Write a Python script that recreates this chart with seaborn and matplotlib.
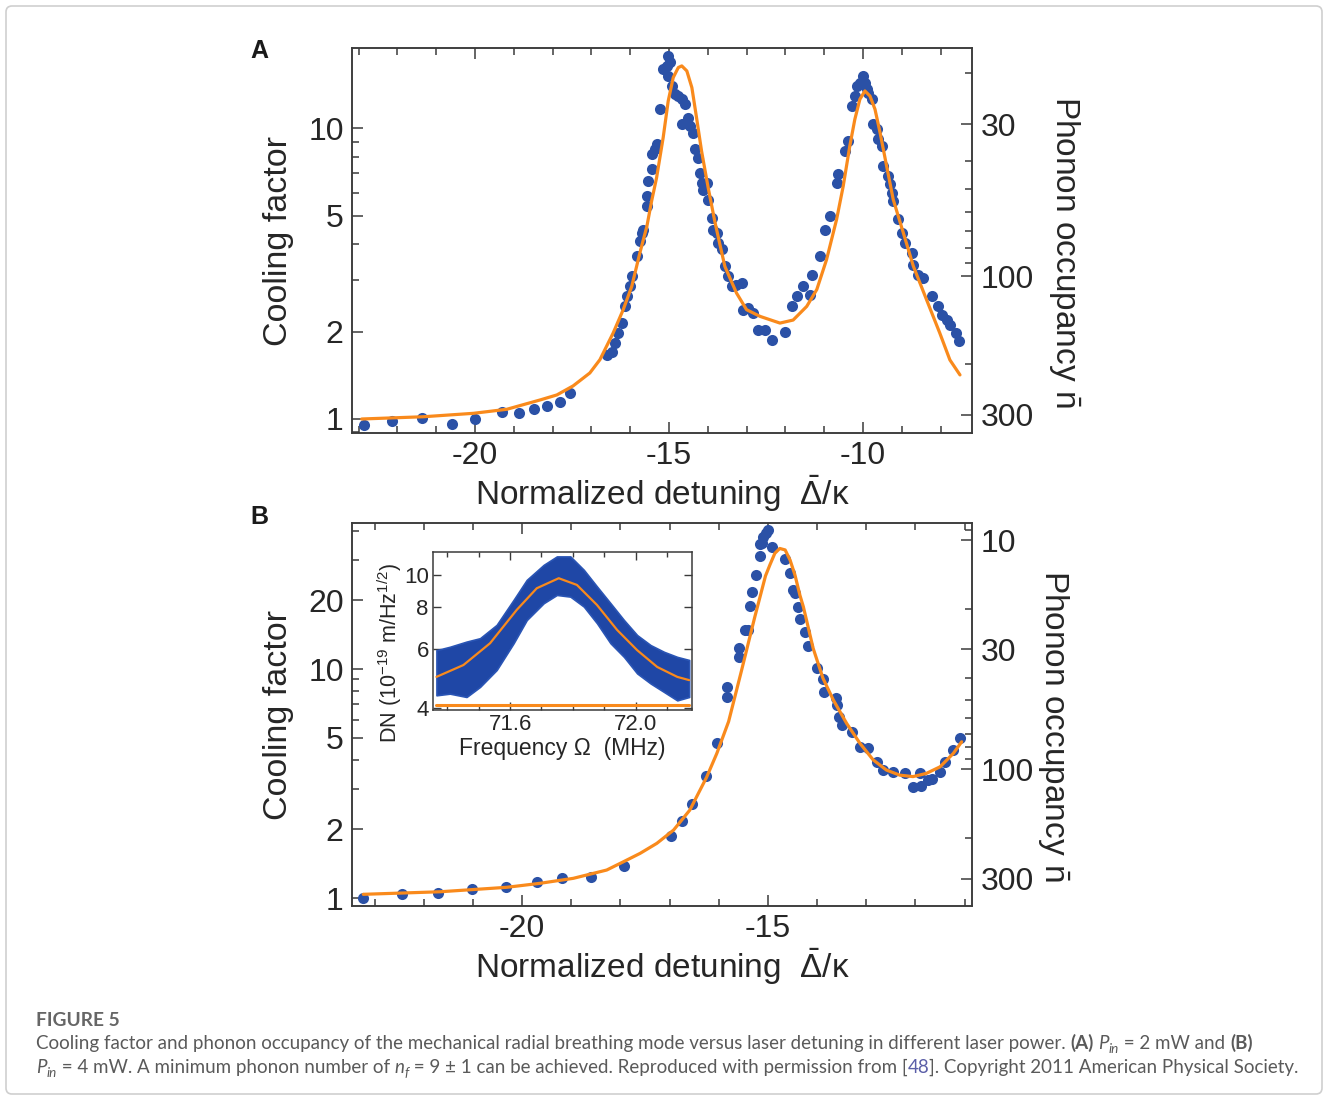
import numpy as np
import matplotlib
matplotlib.use("Agg")
import matplotlib.pyplot as plt
import matplotlib.ticker as mticker
from matplotlib.patches import FancyBboxPatch
import seaborn as sns

# ---------------- values ----------------
# Panel A (P_in = 2 mW): measured cooling factor vs normalized detuning
a_det = [-22.86, -22.15, -21.36, -20.59, -19.99, -19.31, -18.86, -18.48, -18.14, -17.81, -17.55,
         -16.61, -16.48, -16.39, -16.31, -16.22, -16.13, -16.09, -16.01, -15.96, -15.83,
         -15.75, -15.70, -15.66, -15.57, -15.57, -15.53, -15.45, -15.45, -15.36, -15.32,
         -15.23, -15.15, -15.06, -15.02, -14.97, -15.02, -14.93, -14.85, -14.76, -14.67,
         -14.59, -14.67, -14.50, -14.46, -14.37, -14.33, -14.24, -14.20, -14.16, -14.12,
         -14.03, -13.99, -13.90, -13.86, -13.77, -13.73, -13.64, -13.56, -13.47, -13.38,
         -13.26, -13.13, -13.08, -12.96, -12.83, -12.70, -12.53, -12.35, -12.01, -11.84,
         -11.71, -11.54, -11.37, -11.32, -11.11, -10.98, -10.85, -10.68, -10.64, -10.46,
         -10.38, -10.29, -10.21, -10.16, -10.08, -9.99, -9.95, -9.90, -9.86, -9.78,
         -9.73, -9.65, -9.61, -9.52, -9.48, -9.35, -9.30, -9.26, -9.22, -9.09,
         -9.00, -8.92, -8.74, -8.70, -8.57, -8.45, -8.23, -8.06, -7.97, -7.84,
         -7.76, -7.59, -7.52]
a_cool = [0.953, 0.987, 1.01, 0.959, 1.00, 1.055, 1.051, 1.083, 1.111, 1.144, 1.232,
          1.663, 1.706, 1.824, 1.975, 2.138, 2.439, 2.641, 2.858, 3.095, 3.628,
          4.088, 4.368, 4.484, 5.40, 5.84, 6.58, 7.22, 8.13, 8.47, 8.81,
          11.63, 15.97, 16.40, 17.75, 16.85, 15.14, 13.99, 13.10, 12.92, 12.59,
          12.10, 10.32, 10.89, 10.18, 9.67, 8.47, 7.93, 7.03, 6.50, 6.16,
          6.50, 5.69, 4.92, 4.48, 4.37, 4.04, 3.83, 3.35, 3.10, 2.86,
          2.90, 2.94, 2.377, 2.409, 2.315, 2.027, 2.027, 1.873, 2.0, 2.439,
          2.641, 2.858, 2.677, 3.138, 3.628, 4.484, 4.985, 6.50, 6.94, 8.35,
          9.04, 11.94, 12.92, 13.99, 14.38, 15.14, 14.38, 13.63, 13.28, 12.59,
          10.32, 9.92, 9.16, 8.69, 7.41, 6.85, 6.41, 6.00, 5.61, 4.86,
          4.37, 4.04, 3.73, 3.40, 3.14, 3.06, 2.641, 2.439, 2.284, 2.194,
          2.11, 1.975, 1.848]
# fitted theory curve of panel A
a_fit_det = [-22.92, -21.33, -20.04, -19.18, -18.32, -17.89, -17.47, -17.04, -16.78, -16.44,
             -16.18, -15.96, -15.75, -15.57, -15.45, -15.32, -15.15, -15.02, -14.89, -14.76,
             -14.67, -14.54, -14.41, -14.29, -14.16, -13.99, -13.82, -13.69, -13.56, -13.26,
             -13.00, -12.65, -12.14, -11.80, -11.45, -11.19, -10.94, -10.68, -10.51, -10.34,
             -10.21, -10.08, -9.95, -9.82, -9.69, -9.56, -9.39, -9.22, -8.96, -8.70,
             -8.36, -8.02, -7.76, -7.50]
a_fit_cool = [1.0, 1.018, 1.046, 1.08, 1.163, 1.21, 1.30, 1.44, 1.60, 1.975,
              2.377, 2.858, 3.73, 4.60, 5.6, 6.76, 9.29, 12.42, 14.96, 16.19,
              16.40, 15.76, 13.81, 10.89, 8.35, 6.25, 4.79, 4.0, 3.35, 2.713,
              2.377, 2.254, 2.138, 2.19, 2.44, 2.79, 3.53, 4.86, 6.32, 8.69,
              10.74, 12.59, 13.45, 12.92, 11.63, 9.67, 7.41, 5.69, 4.37, 3.35,
              2.57, 1.975, 1.597, 1.418]
n0_a = 310          # phonon occupancy at cooling factor 1
a_cool_ticks = [1, 2, 5, 10]
a_n_ticks = [30, 100, 300]

# Panel B (P_in = 4 mW)
b_det = [-23.23, -22.45, -21.71, -21.01, -20.33, -19.70, -19.19, -18.60, -17.93, -16.97,
         -16.74, -16.54, -16.25, -16.04, -15.84, -15.84, -15.58, -15.58, -15.47, -15.40,
         -15.37, -15.33, -15.25, -15.17, -15.16, -15.13, -15.10, -15.04, -14.99, -14.91,
         -14.65, -14.56, -14.49, -14.45, -14.38, -14.34, -14.25, -14.18, -14.00, -13.88,
         -13.86, -13.61, -13.60, -13.55, -13.50, -13.30, -13.13, -12.96, -12.79, -12.66,
         -12.45, -12.22, -12.05, -11.91, -11.88, -11.74, -11.67, -11.50, -11.40, -11.23,
         -11.10]
b_cool = [0.997, 1.041, 1.048, 1.095, 1.12, 1.171, 1.226, 1.239, 1.384, 1.865,
          2.169, 2.574, 3.41, 4.74, 7.57, 8.37, 11.32, 12.31, 14.80, 14.80,
          18.84, 21.76, 25.73, 30.99, 34.97, 35.5, 37.52, 39.26, 40.46, 33.93,
          30.08, 26.18, 22.13, 21.47, 18.6, 16.57, 14.55, 12.57, 10.07, 9.06,
          7.92, 7.45, 6.96, 6.19, 5.69, 5.32, 4.58, 4.51, 3.94, 3.62,
          3.56, 3.53, 3.04, 3.50, 3.08, 3.28, 3.30, 3.56, 3.94, 4.43,
          5.01]
b_fit_det = [-23.23, -21.67, -20.31, -19.63, -18.96, -18.28, -17.94, -17.60, -17.26, -16.92,
             -16.59, -16.25, -16.04, -15.80, -15.54, -15.27, -15.05, -14.96, -14.86, -14.76,
             -14.65, -14.55, -14.45, -14.35, -14.28, -14.08, -13.88, -13.67, -13.40, -13.13,
             -12.86, -12.59, -12.32, -12.05, -11.78, -11.50, -11.23, -11.06]
b_fit_cool = [1.038, 1.065, 1.114, 1.16, 1.219, 1.325, 1.44, 1.567, 1.733, 1.98,
              2.42, 3.36, 4.28, 5.9, 9.8, 16.8, 25.5, 28.5, 32.0, 33.6,
              33.1, 29.9, 25.7, 21.0, 18.7, 12.3, 9.1, 7.32, 5.79, 4.74,
              4.01, 3.62, 3.44, 3.39, 3.50, 3.74, 4.28, 4.81]
n0_b = 365
b_cool_ticks = [1, 2, 5, 10, 20]
b_n_ticks = [10, 30, 100, 300]

# Inset: displacement noise spectrum (edges of the noisy trace) and Lorentzian fit
ins_freq = [71.365, 71.408, 71.461, 71.504, 71.557, 71.611, 71.653, 71.707, 71.749, 71.792,
            71.835, 71.877, 71.920, 71.963, 72.005, 72.048, 72.091, 72.133, 72.171]
ins_upper = [5.96, 6.10, 6.32, 6.47, 7.09, 8.42, 9.66, 10.71, 11.35, 11.35,
             10.35, 9.23, 8.23, 7.33, 6.61, 6.17, 5.89, 5.69, 5.57]
ins_lower = [4.37, 4.42, 4.32, 4.63, 5.20, 6.25, 7.33, 8.23, 8.71, 8.61,
             8.04, 7.17, 6.25, 5.69, 5.08, 4.74, 4.47, 4.22, 4.32]
ins_fit_freq = [71.365, 71.451, 71.536, 71.621, 71.685, 71.755, 71.813, 71.877, 71.941,
                72.005, 72.069, 72.133, 72.171]
ins_fit = [4.96, 5.38, 6.25, 7.86, 9.12, 9.77, 9.33, 8.13, 6.85, 5.96, 5.31, 4.96, 4.85]
ins_floor = 4.08

# ---------------- style ----------------
W, H = 1328, 1099
BLUE = "#2b51a6"
ORANGE = "#f98a1c"
SPINE = "#3a3a3a"

sns.set_style("ticks")
plt.rcParams["font.family"] = ["Liberation Sans", "DejaVu Sans"]
plt.rcParams["mathtext.fontset"] = "custom"
plt.rcParams["mathtext.rm"] = "Liberation Sans"
plt.rcParams["mathtext.it"] = "Liberation Sans:italic"
plt.rcParams["mathtext.bf"] = "Liberation Sans:bold"
plt.rcParams["axes.edgecolor"] = SPINE
plt.rcParams["axes.linewidth"] = 1.1
plt.rcParams["text.color"] = "#1a1a1a"

fig = plt.figure(figsize=(W / 100, H / 100), dpi=100)


def box(l, t, r, b):
    # pixel box -> figure fraction rect
    return [l / W, 1 - b / H, (r - l) / W, (b - t) / H]


fmt = mticker.FuncFormatter(lambda v, p: f"{v:g}")


def main_panel(rect, det, cool, fdet, fcool, xlim, ylim, cticks, n0, nticks, lpad, rpad, ry):
    ax = fig.add_axes(rect)
    sns.scatterplot(x=det, y=cool, ax=ax, s=64, color=BLUE, linewidth=0, zorder=2)
    sns.lineplot(x=fdet, y=fcool, ax=ax, color=ORANGE, lw=2.3, estimator=None, zorder=3)
    ax.set_yscale("log")
    ax.set_xlim(xlim)
    ax.set_ylim(ylim)
    ax.xaxis.set_major_locator(mticker.MultipleLocator(5))
    ax.xaxis.set_minor_locator(mticker.MultipleLocator(1))
    ax.xaxis.set_major_formatter(fmt)
    ax.yaxis.set_major_locator(mticker.FixedLocator(cticks))
    ax.yaxis.set_major_formatter(fmt)
    ax.yaxis.set_minor_locator(mticker.LogLocator(base=10, subs=np.arange(2, 10), numticks=30))
    ax.yaxis.set_minor_formatter(mticker.NullFormatter())
    ax.set_xlabel(r"Normalized detuning  $\bar{\Delta}/\mathrm{\kappa}$", fontsize=24, labelpad=2)
    ax.set_ylabel("Cooling factor", fontsize=24.5, labelpad=lpad)

    tw = ax.twinx()
    tw.set_yscale("log")
    tw.set_ylim(n0 / ylim[0], n0 / ylim[1])
    tw.yaxis.set_major_locator(mticker.FixedLocator(nticks))
    tw.yaxis.set_major_formatter(fmt)
    tw.yaxis.set_minor_locator(mticker.LogLocator(base=10, subs=np.arange(2, 10), numticks=30))
    tw.yaxis.set_minor_formatter(mticker.NullFormatter())
    tw.set_ylabel(r"Phonon occupancy $\mathrm{\bar{n}}$", fontsize=24, rotation=270,
                  va="bottom", labelpad=rpad)
    tw.yaxis.label.set_y(ry)

    ax.tick_params(which="both", direction="in", top=True, right=False, color=SPINE,
                   width=1.1, labelsize=23, pad=6)
    tw.tick_params(which="both", direction="in", color=SPINE, width=1.1, labelsize=23, pad=6)
    for a in (ax, tw):
        a.tick_params(which="major", length=8)
        a.tick_params(which="minor", length=5)
    return ax


axA = main_panel(box(352, 48, 972, 433), a_det, a_cool, a_fit_det, a_fit_cool,
                 (-23.17, -7.19), (0.895, 18.9), a_cool_ticks, n0_a, a_n_ticks, 10, 9, 0.47)
axB = main_panel(box(352, 523, 972, 906), b_det, b_cool, b_fit_det, b_fit_cool,
                 (-23.46, -10.85), (0.923, 43.4), b_cool_ticks, n0_b, b_n_ticks, 10, 1, 0.47)

# inset
ins = fig.add_axes(box(433, 552, 692, 710))
ins.set_facecolor("white")
ins.fill_between(ins_freq, ins_lower, ins_upper, color="#1f47a6", lw=1.2, edgecolor="#2a55b5")
sns.lineplot(x=ins_fit_freq, y=ins_fit, ax=ins, color=ORANGE, lw=1.6, estimator=None)
ins.plot([ins_freq[0], ins_freq[-1]], [ins_floor, ins_floor], color=ORANGE, lw=2.2)
ins.set_yscale("log")
ins.set_xlim(71.354, 72.18)
ins.set_ylim(3.95, 11.7)
ins.xaxis.set_major_locator(mticker.FixedLocator([71.6, 72.0]))
ins.xaxis.set_major_formatter(mticker.FuncFormatter(lambda v, p: f"{v:.1f}"))
ins.xaxis.set_minor_locator(mticker.MultipleLocator(0.1))
ins.yaxis.set_major_locator(mticker.FixedLocator([4, 6, 8, 10]))
ins.yaxis.set_major_formatter(fmt)
ins.yaxis.set_minor_locator(mticker.NullLocator())
ins.yaxis.set_minor_formatter(mticker.NullFormatter())
ins.tick_params(which="both", direction="in", top=True, right=True, color=SPINE,
                width=1.0, labelsize=16, pad=3)
ins.tick_params(which="major", length=6)
ins.tick_params(which="minor", length=3.5)
ins.set_xlabel("Frequency Ω  (MHz)", fontsize=16.5, labelpad=1)
ins.set_ylabel(r"DN (10$^{-19}$ m/Hz$^{1/2}$)", fontsize=15.5, labelpad=0)
ins.yaxis.label.set_y(0.36)

# panel letters
fig.text(250 / W, 1 - 58 / H, "A", fontsize=18, fontweight="bold", va="baseline")
fig.text(250 / W, 1 - 524 / H, "B", fontsize=18, fontweight="bold", va="baseline")

# outer frame
fig.patches.append(FancyBboxPatch((6, 5), W - 12, H - 11, boxstyle="round,pad=0,rounding_size=6",
                                  transform=None, fill=False, edgecolor="#cfcfcf", lw=1.2))

# caption
rend = fig.canvas.get_renderer()
CAP = "#5a5a5a"
cap_font = dict(family=["Lato", "DejaVu Sans"], color=CAP)


def advance(s, kw):
    t1 = fig.text(0, 0, s + "|", **kw)
    t2 = fig.text(0, 0, "|", **kw)
    w = t1.get_window_extent(rend).width - t2.get_window_extent(rend).width
    t1.remove()
    t2.remove()
    return w


line1_plain = ("Cooling factor and phonon occupancy of the mechanical radial breathing mode "
               "versus laser detuning in different laser power. (A) Pin = 2 mW and (B)")
w12 = advance(line1_plain, dict(cap_font, size=12))
sz = 12 * 1217 / w12


def caption_line(x, y, parts):
    for s, extra, dy in parts:
        kw = dict(cap_font, size=sz)
        kw.update(extra)
        fig.text(x / W, 1 - (y - dy) / H, s, va="baseline", ha="left", **kw)
        x += advance(s, kw)


it = dict(style="italic")
sub = dict(style="italic", size=sz * 0.72)
bold = dict(weight="bold")
fig.text(36 / W, 1 - 1026 / H, "FIGURE 5", va="baseline", ha="left",
         **dict(cap_font, size=sz * 1.02, weight="bold", color="#666666"))
caption_line(36, 1049, [
    ("Cooling factor and phonon occupancy of the mechanical radial breathing mode versus laser "
     "detuning in different laser power. ", {}, 0),
    ("(A)", bold, 0), (" ", {}, 0), ("P", it, 0), ("in", sub, -4),
    (" = 2 mW and ", {}, 0), ("(B)", bold, 0)])
caption_line(36, 1073, [
    ("P", it, 0), ("in", sub, -4),
    (" = 4 mW. A minimum phonon number of ", {}, 0), ("n", it, 0), ("f", sub, -4),
    (" = 9 ± 1 can be achieved. Reproduced with permission from [", {}, 0),
    ("48", dict(color="#5b5fa8"), 0),
    ("]. Copyright 2011 American Physical Society.", {}, 0)])

fig.savefig("out.png", dpi=100)
